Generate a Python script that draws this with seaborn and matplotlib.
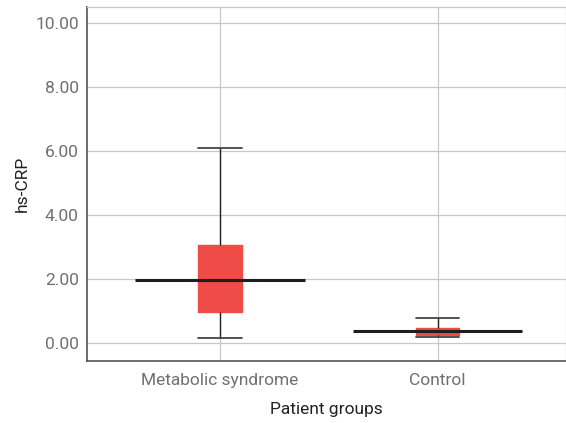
import numpy as np
import pandas as pd
import matplotlib
matplotlib.use("Agg")
import matplotlib.pyplot as plt
import seaborn as sns

# five-number summaries: low whisker, Q1, median, Q3, high whisker
groups = ["Metabolic syndrome", "Control"]
low = [0.16, 0.18]
q1 = [0.97, 0.25]
median = [1.97, 0.36]
q3 = [3.06, 0.47]
high = [6.09, 0.79]

y_ticks = [0, 2, 4, 6, 8, 10]

rows = []
for i, g in enumerate(groups):
    for v in (low[i], q1[i], median[i], q3[i], high[i]):
        rows.append({"group": g, "value": v})
df = pd.DataFrame(rows)

sns.set_theme(style="whitegrid")
plt.rcParams["font.family"] = ["Roboto", "DejaVu Sans"]

fig, ax = plt.subplots(figsize=(5.66, 4.23), dpi=100)
fig.subplots_adjust(left=0.154, right=1.0, top=0.983, bottom=0.147)

box_red = "#ef4b47"
box_w = 0.2
sns.boxplot(data=df, x="group", y="value", order=groups, whis=np.inf,
            width=box_w, color=box_red, linewidth=1.0, ax=ax,
            boxprops=dict(facecolor=box_red, edgecolor=box_red),
            whiskerprops=dict(color="#222222", linewidth=1.0),
            capprops=dict(color="#444444", linewidth=1.3),
            medianprops=dict(color="#222222", linewidth=2.2))

# caps as wide as the boxes
for cont in ax.containers:
    if hasattr(cont, "caps"):
        for cap in cont.caps:
            x0, x1 = cap.get_xdata()
            c = (x0 + x1) / 2
            cap.set_xdata([c - box_w / 2, c + box_w / 2])

# long median bars extending past the boxes
xs = np.arange(len(groups))
ax.hlines(median, xs - 0.39, xs + 0.39, color="#1e1e1e", linewidth=2.2, zorder=5)

ax.set_xlim(-0.61, 1.59)
ax.set_ylim(-0.56, 10.5)
ax.set_yticks(y_ticks)
ax.set_yticklabels([f"{t:.2f}" for t in y_ticks])

ax.grid(True, color="#c8c8c8", linewidth=0.9)
for side in ("top", "right"):
    ax.spines[side].set_visible(True)
    ax.spines[side].set_color("#c8c8c8")
    ax.spines[side].set_linewidth(0.9)
for side in ("left", "bottom"):
    ax.spines[side].set_color("#555555")
    ax.spines[side].set_linewidth(1.2)

ax.tick_params(axis="both", labelsize=12.5, labelcolor="#707070", length=0)
ax.tick_params(axis="x", pad=9)
ax.tick_params(axis="y", pad=6)
ax.set_xlabel("Patient groups", fontsize=12.5, color="#222222", labelpad=10)
ax.set_ylabel("hs-CRP", fontsize=12.5, color="#222222", labelpad=4)

fig.savefig("out.png", dpi=100)
